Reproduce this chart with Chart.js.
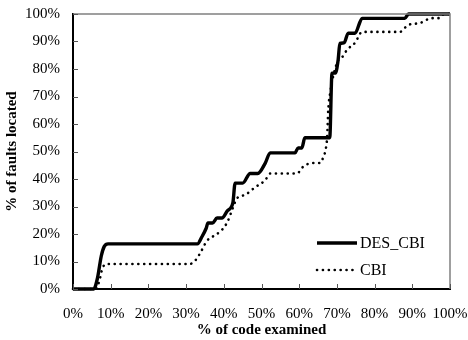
<!DOCTYPE html>
<html>
<head>
<meta charset="utf-8">
<script src="https://cdn.jsdelivr.net/npm/chart.js@4"></script>
<style>
  html, body { margin: 0; padding: 0; background: #fff; }
</style>
</head>
<body>
<canvas id="chart" width="468" height="340"></canvas>
<script>
// % of code examined (x) vs % of faults located (y)
let desX = [0, 5.5, 6.5, 7.5, 8.3, 9.3, 33, 34.2, 35.3, 35.8, 37, 38.2, 39.5, 41, 42.4, 43, 45, 47, 49, 51, 52.3, 58.9, 59.7, 60.7, 61.5, 68.1, 68.7, 69.6, 70.3, 70.8, 71.9, 73, 74.8, 76.7, 88, 89, 100]
let desY = [0, 0, 4, 12, 15.5, 16.4, 16.4, 19, 22, 24, 24, 25.8, 25.8, 28.5, 31.3, 38.5, 38.5, 42, 42, 45.8, 49.5, 49.5, 51.3, 51.3, 55, 55, 78.5, 78.5, 83, 89.3, 89.5, 93, 93, 98.4, 98.4, 100, 100]

let cbiX = [0, 6, 7, 7.8, 8.7, 9.5, 31, 32.5, 33.5, 34.5, 35.5, 37, 39.5, 41, 42.4, 43.5, 45.6, 48.3, 51, 52.3, 59.4, 61, 63.4, 65.5, 66.3, 67.1, 67.4, 67.7, 68.3, 68.8, 69.5, 70.5, 71.5, 72.7, 74.8, 76.7, 86.7, 88.9, 92, 95.2, 97, 98.5, 100]
let cbiY = [0, 0, 3, 7.5, 9, 9.1, 9.1, 10.5, 12.5, 15, 17.5, 19, 21.5, 24.5, 29.5, 33, 34.2, 37, 39.6, 42, 42, 44.4, 45.8, 45.8, 47.6, 51.3, 55, 65, 72, 76, 80, 83.5, 84.5, 87, 89.5, 93.5, 93.5, 96, 96.7, 98.5, 98.5, 100, 100]

let seriesNames = ['DES_CBI', 'CBI']

const toPoints = (xs, ys) => xs.map((x, i) => ({ x: x, y: ys[i] }))

const serif = 'Liberation Serif, Times New Roman, serif'

// frame on top/right, inward tick marks and the legend inside the plot
const decor = {
	id: 'decor',
	afterDraw(chart) {
		const { ctx, chartArea: a, scales } = chart
		ctx.save()
		ctx.strokeStyle = '#808080'
		ctx.lineWidth = 1.5
		ctx.beginPath()
		ctx.moveTo(a.left, a.top)
		ctx.lineTo(a.right, a.top)
		ctx.lineTo(a.right, a.bottom)
		ctx.stroke()

		ctx.strokeStyle = '#555'
		ctx.lineWidth = 1
		scales.y.ticks.forEach(t => {
			const py = Math.round(scales.y.getPixelForValue(t.value)) + 0.5
			ctx.beginPath()
			ctx.moveTo(a.left, py)
			ctx.lineTo(a.left + 5, py)
			ctx.stroke()
		})
		scales.x.ticks.forEach(t => {
			const px = Math.round(scales.x.getPixelForValue(t.value)) + 0.5
			ctx.beginPath()
			ctx.moveTo(px, a.bottom)
			ctx.lineTo(px, a.bottom - 5)
			ctx.stroke()
		})

		// legend
		const lx = a.right - 133
		const rows = [a.bottom - 46, a.bottom - 19]
		chart.data.datasets.forEach((ds, i) => {
			ctx.strokeStyle = '#000'
			ctx.lineWidth = ds.borderWidth
			ctx.lineCap = ds.borderCapStyle || 'butt'
			ctx.setLineDash(ds.borderDash || [])
			ctx.beginPath()
			ctx.moveTo(lx, rows[i])
			ctx.lineTo(lx + 40, rows[i])
			ctx.stroke()
			ctx.setLineDash([])
			ctx.fillStyle = '#000'
			ctx.font = '16px ' + serif
			ctx.textBaseline = 'middle'
			ctx.fillText(ds.label, lx + 43, rows[i] + 1)
		})
		ctx.restore()
	}
}

new Chart(document.getElementById('chart'), {
	type: 'line',
	data: {
		datasets: [
			{
				label: seriesNames[0],
				data: toPoints(desX, desY),
				borderColor: '#000',
				borderWidth: 3.4,
				pointRadius: 0,
				clip: 4,
				cubicInterpolationMode: 'monotone'
			},
			{
				label: seriesNames[1],
				data: toPoints(cbiX, cbiY),
				borderColor: '#000',
				borderWidth: 2.6,
				borderDash: [0.1, 5.8],
				borderCapStyle: 'round',
				pointRadius: 0,
				clip: 4,
				cubicInterpolationMode: 'monotone'
			}
		]
	},
	options: {
		responsive: false,
		animation: false,
		layout: { padding: { left: 0, right: 0, top: 0, bottom: 2 } },
		plugins: { legend: { display: false }, tooltip: { enabled: false } },
		scales: {
			x: {
				type: 'linear',
				min: 0,
				max: 100,
				afterFit: s => { s.paddingRight = 18 },
				ticks: {
					stepSize: 10,
					color: '#000',
					padding: 16,
					autoSkip: false,
					maxRotation: 0,
					minRotation: 0,
					font: { family: serif, size: 15 },
					callback: v => v + '%'
				},
				grid: { display: false, drawTicks: false },
				border: { color: '#000', width: 2 },
				title: {
					display: true,
					text: '% of code examined',
					color: '#000',
					padding: { top: -16, bottom: 0 },
					font: { family: serif, size: 15, weight: 'bold', lineHeight: 1 }
				}
			},
			y: {
				min: 0,
				max: 100,
				afterFit: s => { s.width = 73; s.paddingTop = 14 },
				ticks: {
					stepSize: 10,
					color: '#000',
					padding: 13,
					font: { family: serif, size: 15 },
					callback: v => v + '%'
				},
				grid: { display: false, drawTicks: false },
				border: { color: '#000', width: 2 },
				title: {
					display: true,
					text: '% of faults located',
					color: '#000',
					padding: { top: 5, bottom: 0 },
					font: { family: serif, size: 15, weight: 'bold', lineHeight: 1 }
				}
			}
		}
	},
	plugins: [decor]
})
</script>
</body>
</html>
